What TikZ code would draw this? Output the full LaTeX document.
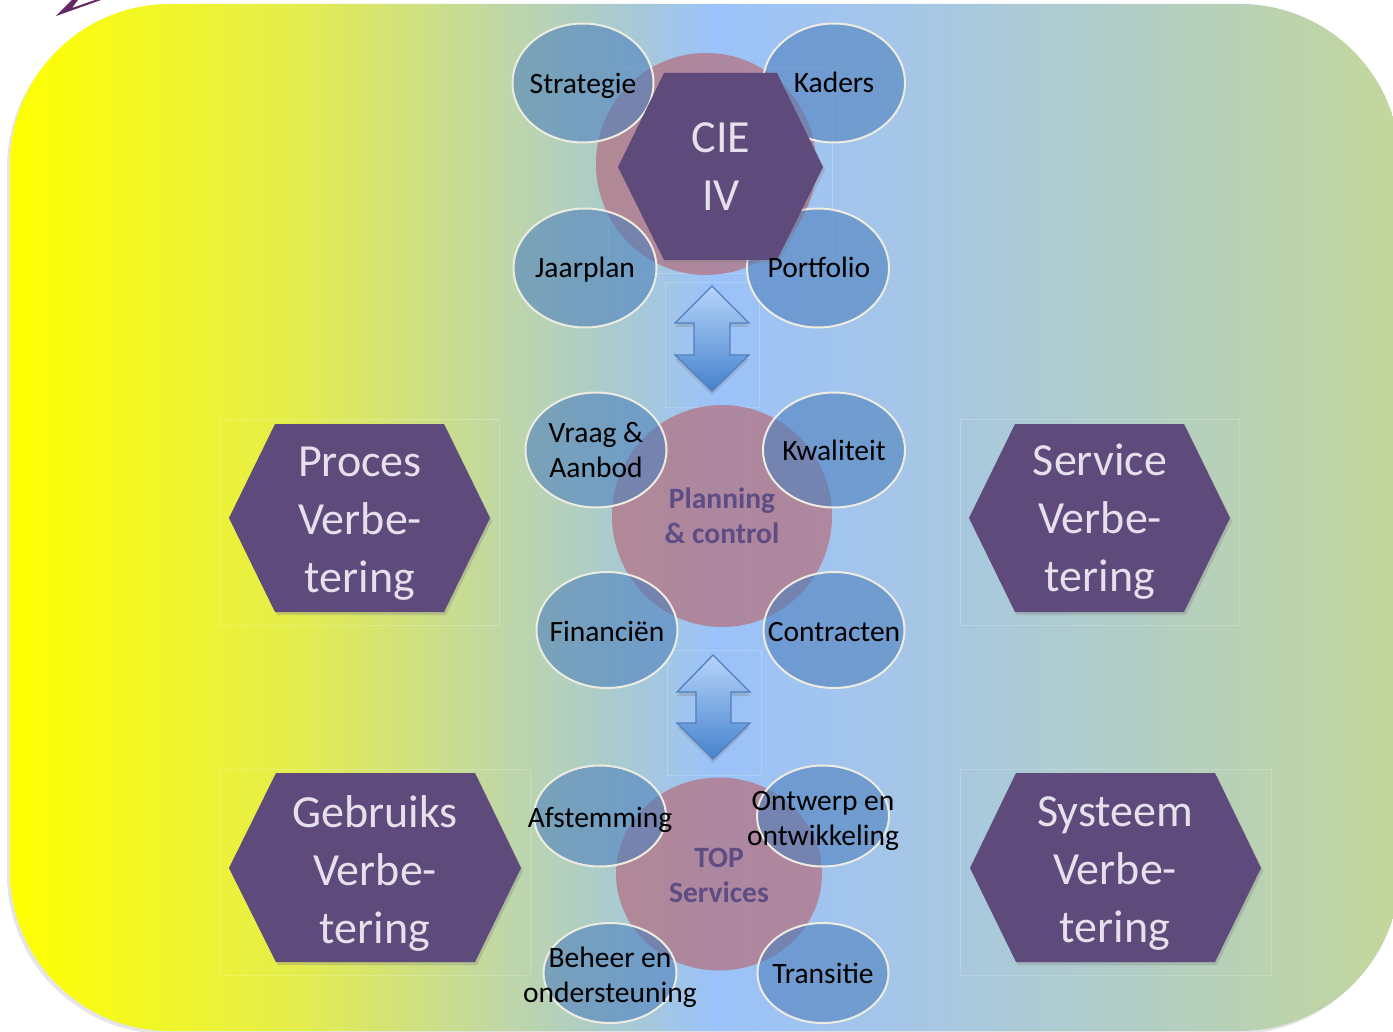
\documentclass[tikz,border=0pt]{standalone}
\usepackage{fontspec}
\setmainfont{Carlito}
\usetikzlibrary{shapes.geometric,shadows}
\definecolor{bgA}{RGB}{255,255,0}
\definecolor{bgB}{RGB}{228,237,78}
\definecolor{bgC}{RGB}{192,215,165}
\definecolor{bgD}{RGB}{172,204,200}
\definecolor{bgE}{RGB}{155,194,250}
\definecolor{bgF}{RGB}{165,198,232}
\definecolor{bgG}{RGB}{178,206,195}
\definecolor{bgH}{RGB}{196,215,155}
\definecolor{pinkcol}{RGB}{180,115,131}
\definecolor{ellblue}{RGB}{79,129,189}
\definecolor{cream}{RGB}{238,236,225}
\definecolor{hexcol}{RGB}{95,75,123}
\definecolor{hextext}{RGB}{230,224,236}
\definecolor{ptextcol}{RGB}{94,76,132}
\definecolor{arrtop}{RGB}{182,212,250}
\definecolor{arrbot}{RGB}{70,130,205}
\definecolor{arrline}{RGB}{80,128,192}
\definecolor{fragcol}{RGB}{100,40,100}
\pgfdeclarehorizontalshading{bgshade}{100bp}{color(0bp)=(bgA); color(25bp)=(bgA); color(35.45bp)=(bgB); color(42.65bp)=(bgC); color(46.2bp)=(bgD); color(50.35bp)=(bgE); color(57bp)=(bgF); color(66bp)=(bgG); color(75bp)=(bgH); color(100bp)=(bgH)}
\tikzset{
  pinkc/.style={ellipse, fill=pinkcol, fill opacity=0.75, draw=none, inner sep=0pt},
  ell/.style={ellipse, draw=cream, line width=2pt, fill=ellblue, fill opacity=0.6, inner sep=0pt},
  etext/.style={font=\fontsize{29.5}{35}\selectfont, text=black, align=center, inner sep=0pt},
  etextone/.style={etext, text height=19pt, text depth=0pt},
  hexa/.style={fill=hexcol, drop shadow={opacity=0.3, shadow xshift=2pt, shadow yshift=-3pt}},
  htext/.style={font=\fontsize{46}{58}\selectfont, text=hextext, align=center, inner sep=0pt},
  ptext/.style={font=\bfseries\fontsize{29.5}{35}\selectfont, text=ptextcol, align=center, inner sep=0pt},
  faint/.style={draw=white, draw opacity=0.2, line width=0.8pt},
  barrow/.style={top color=arrtop, bottom color=arrbot, draw=arrline, line width=1.3pt, line join=miter,
    drop shadow={opacity=0.3, shadow xshift=0pt, shadow yshift=-4pt}}
}
\begin{document}
\begin{tikzpicture}[x=1pt,y=-1pt]
\useasboundingbox (0,0) rectangle (1393,1032);
% fragment of an arrow at the top left
\fill[fragcol] (56,16) -- (72,0) -- (78,0) -- (72,8) -- (95,0) -- (101,0) -- cycle;
% background
\fill[black, opacity=0.1, rounded corners=160pt] (7,8) rectangle (1397,1034);
\shade[shading=bgshade, rounded corners=160pt] (10,4) rectangle (1400,1031);
% faint frames
\draw[faint] (219,419) rectangle (499,625);
\draw[faint] (960,419) rectangle (1239,625);
\draw[faint] (220,769) rectangle (530,975);
\draw[faint] (960,769) rectangle (1271,975);
\draw[faint] (665,282) rectangle (759,407);
\draw[faint] (667,650) rectangle (761,775);
\draw[faint] (608,68) rectangle (832,273);
% central circles
\node[pinkc, minimum width=220pt, minimum height=222pt] (c1) at (706,164) {};
\node[pinkc, minimum width=220pt, minimum height=222pt] (c2) at (722,516) {};
\node[pinkc, minimum width=206pt, minimum height=193pt] (c3) at (719,874) {};
% ellipses top
\node[ell, minimum width=141pt, minimum height=119pt] (strat) at (583,83) {};
\node[ell, minimum width=142pt, minimum height=119pt] (kaders) at (834,83) {};
\node[ell, minimum width=143pt, minimum height=119pt] (jaar) at (585,268) {};
\node[ell, minimum width=142pt, minimum height=119pt] (portf) at (818,268) {};
% ellipses middle
\node[ell, minimum width=141pt, minimum height=115pt] (vraag) at (596,450) {};
\node[ell, minimum width=142pt, minimum height=115pt] (kwal) at (834,450) {};
\node[ell, minimum width=141pt, minimum height=116pt] (fin) at (607,630) {};
\node[ell, minimum width=141pt, minimum height=116pt] (contr) at (834,630) {};
% ellipses bottom
\node[ell, minimum width=132pt, minimum height=101pt] (afst) at (600,816) {};
\node[ell, minimum width=132pt, minimum height=101pt] (ontw) at (823,816) {};
\node[ell, minimum width=133pt, minimum height=100pt] (beheer) at (610,973) {};
\node[ell, minimum width=131pt, minimum height=100pt] (trans) at (823,973) {};
% block arrows
\path[barrow] (712,286) -- (749,323) -- (730,323) -- (730,355) -- (749,355) -- (712,391)
  -- (675,355) -- (694,355) -- (694,323) -- (675,323) -- cycle;
\path[barrow] (713,655) -- (750,692) -- (731,692) -- (731,723) -- (750,723) -- (713,759)
  -- (677,723) -- (696,723) -- (696,692) -- (677,692) -- cycle;
% hexagons
\path[hexa] (618,167) -- (664,73) -- (777,73) -- (823,167) -- (777,260) -- (664,260) -- cycle;
\path[hexa] (229,518) -- (275,424) -- (444,424) -- (490,518) -- (444,612) -- (275,612) -- cycle;
\path[hexa] (969,518) -- (1015,424) -- (1184,424) -- (1230,518) -- (1184,612) -- (1015,612) -- cycle;
\path[hexa] (229,868) -- (276,773) -- (475,773) -- (521,868) -- (475,962) -- (276,962) -- cycle;
\path[hexa] (970,868) -- (1016,773) -- (1215,773) -- (1261,868) -- (1215,962) -- (1016,962) -- cycle;
% hexagon texts
\node[htext] (cie) at (721,167) {CIE\\IV};
\node[htext] (proces) at (360,524) {Proces\\Verbe-\\tering};
\node[htext] (service) at (1100,522) {Service\\Verbe-\\tering};
\node[htext] (gebruiks) at (375,873) {Gebruiks\\Verbe-\\tering};
\node[htext] (systeem) at (1115,874) {Systeem\\Verbe-\\tering};
% circle texts
\node[ptext] (planning) at (722,516) {Planning\\\& control};
\node[ptext] (top) at (719,875) {TOP\\Services};
% ellipse texts
\node[etextone] (strat-t) at (583,84) {Strategie};
\node[etextone] (kaders-t) at (834,83) {Kaders};
\node[etextone] (jaar-t) at (585,268.5) {Jaarplan};
\node[etextone] (portf-t) at (819,268.5) {Portfolio};
\node[etext] (vraag-t) at (596,450) {Vraag \&\\Aanbod};
\node[etextone] (kwal-t) at (834,450.5) {Kwaliteit};
\node[etextone] (fin-t) at (607,631.5) {Financiën};
\node[etextone] (contr-t) at (834,632) {Contracten};
\node[etextone] (afst-t) at (600,818) {Afstemming};
\node[etext] (ontw-t) at (823,821) {Ontwerp en\\ontwikkeling};
\node[etext] (beheer-t) at (610,977) {Beheer en\\ondersteuning};
\node[etextone] (trans-t) at (823,974) {Transitie};
\end{tikzpicture}
\end{document}
